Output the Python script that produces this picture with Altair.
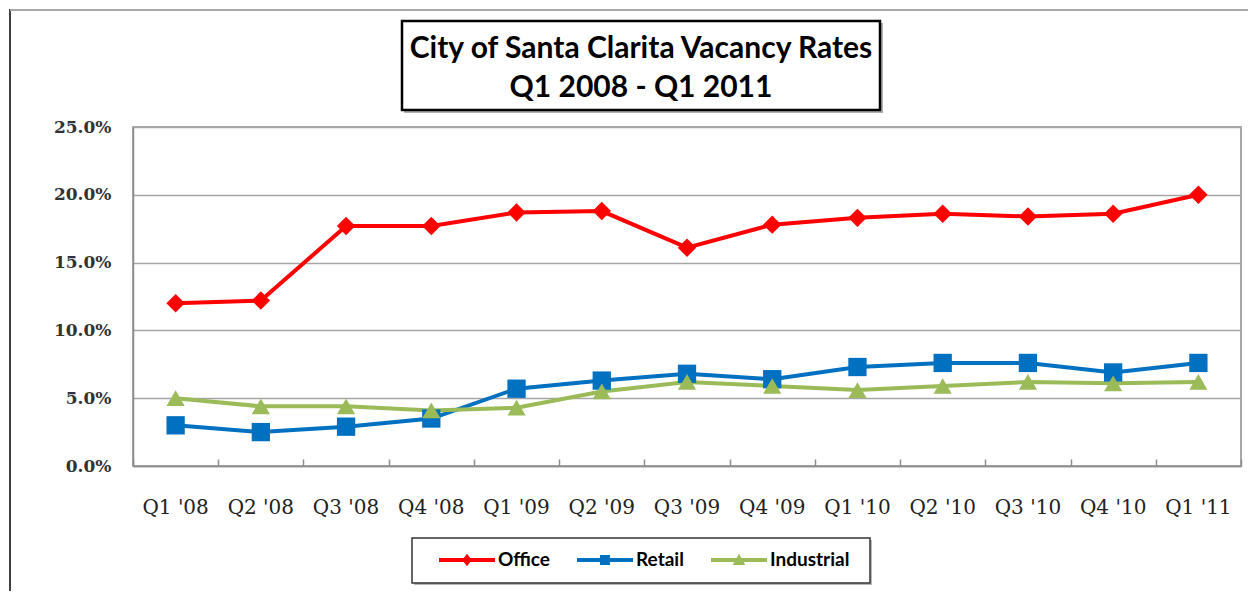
import altair as alt
import pandas as pd

quarters = ["Q1 '08", "Q2 '08", "Q3 '08", "Q4 '08", "Q1 '09", "Q2 '09", "Q3 '09",
            "Q4 '09", "Q1 '10", "Q2 '10", "Q3 '10", "Q4 '10", "Q1 '11"]
office = [12.0, 12.2, 17.7, 17.7, 18.7, 18.8, 16.1, 17.8, 18.3, 18.6, 18.4, 18.6, 20.0]
retail = [3.0, 2.5, 2.9, 3.5, 5.7, 6.3, 6.8, 6.4, 7.3, 7.6, 7.6, 6.9, 7.6]
industrial = [5.0, 4.4, 4.4, 4.1, 4.3, 5.5, 6.2, 5.9, 5.6, 5.9, 6.2, 6.1, 6.2]
series = ["Office", "Retail", "Industrial"]
colors = ["#ff0000", "#0070c0", "#9bbb59"]
shapes = ["diamond", "square", "triangle-up"]
marker_sizes = [340, 330, 340]
y_ticks = [0, 5, 10, 15, 20, 25]
title_lines = ["City of Santa Clarita Vacancy Rates", "Q1 2008 - Q1 2011"]

rows = []
for s, vals in zip(series, [office, retail, industrial]):
    for q, v in zip(quarters, vals):
        rows.append({"quarter": q, "series": s, "rate": v})
df = pd.DataFrame(rows)
deco = pd.DataFrame({"k": [0]})

W, H = 1108, 339

x_scale = alt.Scale(type="band", domain=quarters, paddingInner=0, paddingOuter=0)
y_scale = alt.Scale(domain=[0, 25], nice=False)
color_scale = alt.Scale(domain=series, range=colors)

P_LINE = "M-1,-0.14L3,-0.14L3,0.14L-1,0.14Z"
legend_paths = [
    P_LINE + "M1,-0.45L1.34,0L1,0.45L0.66,0Z",
    P_LINE + "M0.64,-0.36L1.36,-0.36L1.36,0.36L0.64,0.36Z",
    P_LINE + "M1,-0.45L1.45,0.36L0.55,0.36Z",
]
shape_expr = "datum.value === '%s' ? '%s' : datum.value === '%s' ? '%s' : '%s'" % (
    series[0], legend_paths[0], series[1], legend_paths[1], legend_paths[2])

legend = alt.Legend(
    title=None, orient="none", legendX=306, legendY=419, direction="horizontal",
    columns=3, symbolSize=784, labelOffset=31, columnPadding=27,
    labelFont="Lato", labelFontSize=19, labelFontWeight="bold", labelColor="black",
    padding=0, symbolOpacity=1, symbolStrokeWidth=0,
    symbolType={"expr": shape_expr},
)

y_axis = alt.Axis(title=None, values=y_ticks,
                  labelExpr="format(datum.value, '.1f') + '%'",
                  grid=True, gridColor="#a6a6a6", gridWidth=1.5, ticks=False,
                  domainColor="#8c8c8c", domainWidth=1.5,
                  labelFont="DejaVu Serif", labelFontWeight="bold",
                  labelFontSize=17, labelColor="#333", labelPadding=22)

lines = alt.Chart(df).mark_line(strokeWidth=4).encode(
    x=alt.X("quarter:N", scale=x_scale, sort=quarters, bandPosition=0.5,
            axis=alt.Axis(orient="bottom", title=None, labelAngle=0, ticks=False,
                          domainColor="#8c8c8c", domainWidth=1.5, grid=False,
                          labelFont="DejaVu Serif", labelFontSize=20, labelColor="#222",
                          labelPadding=31)),
    y=alt.Y("rate:Q", scale=y_scale, axis=y_axis),
    color=alt.Color("series:N", scale=color_scale, sort=series, legend=None),
)

points = alt.Chart(df).mark_point(filled=True, opacity=1, strokeWidth=0).encode(
    x=alt.X("quarter:N", scale=x_scale, sort=quarters, bandPosition=0.5,
            axis=alt.Axis(orient="top", offset=-H, labels=False, domain=False, ticks=True,
                          tickSize=7, tickColor="#8c8c8c", tickWidth=1.5,
                          tickBand="extent", grid=False, title=None)),
    y=alt.Y("rate:Q", scale=y_scale, axis=y_axis),
    color=alt.Color("series:N", scale=color_scale, sort=series, legend=legend),
    shape=alt.Shape("series:N", scale=alt.Scale(domain=series, range=shapes), legend=None),
    size=alt.Size("series:N", scale=alt.Scale(domain=series, range=marker_sizes), legend=None),
)

frame_left = alt.Chart(deco).mark_rule(color="#404040", strokeWidth=2).encode(
    x=alt.value(-123), y=alt.value(-118), y2=alt.value(H + 300))
frame_top = alt.Chart(deco).mark_rule(color="#a8a8a8", strokeWidth=2).encode(
    x=alt.value(-123), x2=alt.value(W + 300), y=alt.value(-117))
title_shadow = alt.Chart(deco).mark_rect(fill="#b0b0b0").encode(
    x=alt.value(271), x2=alt.value(750), y=alt.value(-104), y2=alt.value(-14))
title_box = alt.Chart(deco).mark_rect(fill="white", stroke="black", strokeWidth=2.5).encode(
    x=alt.value(269), x2=alt.value(747), y=alt.value(-106), y2=alt.value(-17))
title1 = alt.Chart(deco).mark_text(text=title_lines[0], font="Lato", fontSize=30,
                                   fontWeight="bold", align="center", baseline="alphabetic",
                                   color="black").encode(x=alt.value(508), y=alt.value(-69))
title2 = alt.Chart(deco).mark_text(text=title_lines[1], font="Lato", fontSize=30,
                                   fontWeight="bold", align="center", baseline="alphabetic",
                                   color="black").encode(x=alt.value(508), y=alt.value(-30))
legend_shadow = alt.Chart(deco).mark_rect(fill="#b8b8b8").encode(
    x=alt.value(281), x2=alt.value(739), y=alt.value(413), y2=alt.value(458))
legend_box = alt.Chart(deco).mark_rect(fill="white", stroke="#333333", strokeWidth=1.5).encode(
    x=alt.value(279), x2=alt.value(737), y=alt.value(411), y2=alt.value(456))

chart = alt.layer(
    frame_left, frame_top, title_shadow, title_box, title1, title2,
    legend_shadow, legend_box, lines, points,
).resolve_axis(x="independent").resolve_legend(color="independent").properties(
    width=W, height=H,
    padding={"left": 125, "top": 119, "right": 7, "bottom": 125},
    autosize=alt.AutoSizeParams(type="none"),
).configure_view(stroke="#8c8c8c", strokeWidth=1.5)

chart.save("out.html", embed_options={"renderer": "svg", "actions": False})
